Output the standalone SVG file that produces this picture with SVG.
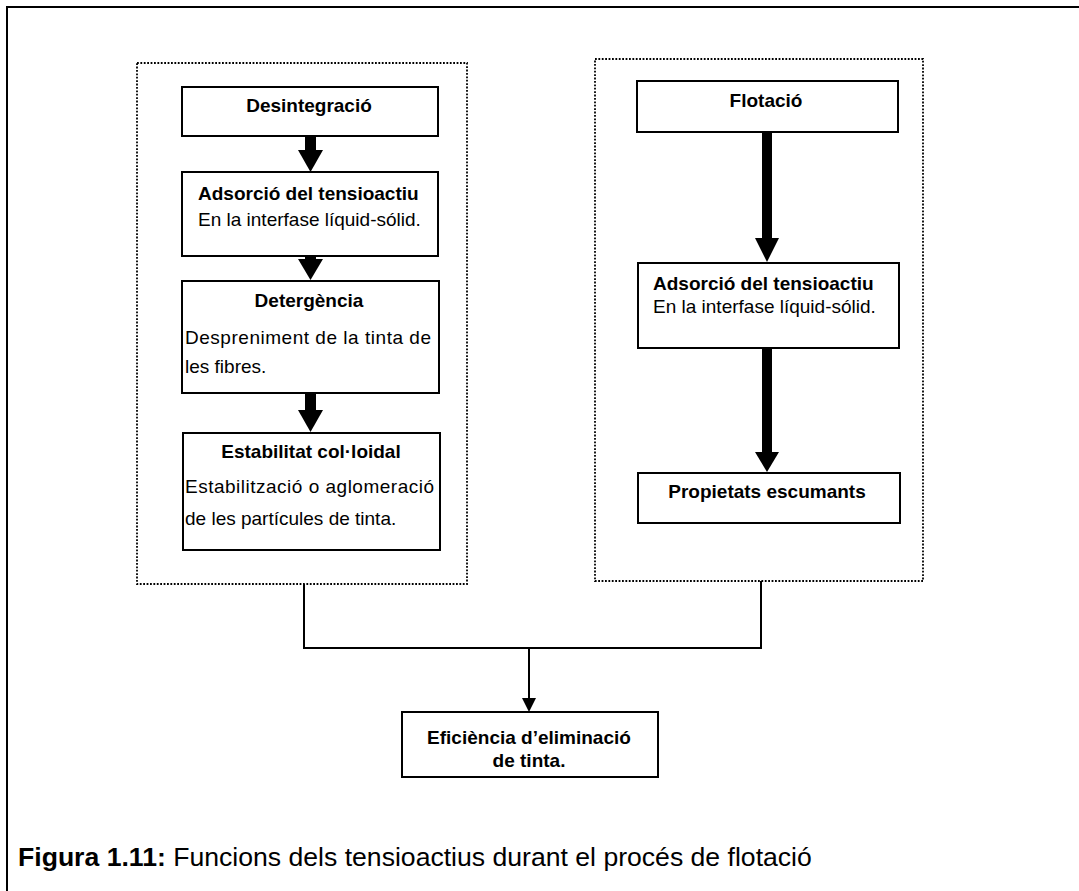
<svg xmlns="http://www.w3.org/2000/svg" width="1079" height="891" viewBox="0 0 1079 891">
  <style>
    .frame { fill: none; stroke: #000; stroke-width: 2; }
    .group { fill: none; stroke: #000; stroke-width: 1.8; stroke-dasharray: 1.8 1.6; }
    .box { fill: #fff; stroke: #000; stroke-width: 2; }
    .t { font-family: "Liberation Sans", Arial, Helvetica, sans-serif; font-size: 19px; fill: #000; }
    .b { font-weight: bold; }
    .c { text-anchor: middle; }
    .link { fill: none; stroke: #000; stroke-width: 2; }
    .shaft { fill: #000; }
    .cap { font-family: "Liberation Sans", Arial, Helvetica, sans-serif; font-size: 26.6px; fill: #000; }
  </style>

  <rect x="0" y="0" width="1079" height="891" fill="#fff"/>

  <!-- page frame (open at right and bottom) -->
  <path class="frame" d="M7,891 V7 H1079"/>

  <!-- dotted group outlines -->
  <g id="group-left">
    <rect class="group" x="137" y="63" width="330" height="521"/>
  </g>
  <g id="group-right">
    <rect class="group" x="595" y="59" width="328" height="522"/>
  </g>

  <!-- connectors -->
  <g id="connectors">
    <!-- left column -->
    <rect class="shaft" x="305" y="136" width="11" height="15"/>
    <polygon class="shaft" points="298,150 323,150 310.5,172"/>
    <rect class="shaft" x="305" y="255" width="11" height="5"/>
    <polygon class="shaft" points="298,259 323,259 310.5,280"/>
    <rect class="shaft" x="305" y="392" width="11" height="19"/>
    <polygon class="shaft" points="298,410 323,410 310.5,432"/>
    <!-- right column -->
    <rect class="shaft" x="762" y="131" width="10" height="109"/>
    <polygon class="shaft" points="755,238 779,238 767,262"/>
    <rect class="shaft" x="762" y="347" width="10" height="107"/>
    <polygon class="shaft" points="755,452 779,452 767,472"/>
    <!-- merge into result -->
    <path class="link" d="M304,584 V648 H761 V581"/>
    <path class="link" d="M529,648 V699"/>
    <polygon class="shaft" points="522,698 536,698 529,712"/>
  </g>

  <!-- left column nodes -->
  <g id="node-desintegracio">
    <rect class="box" x="182" y="87" width="256" height="49"/>
    <text class="t b c" x="309" y="112">Desintegració</text>
  </g>
  <g id="node-adsorcio-1">
    <rect class="box" x="182" y="172" width="256" height="84"/>
    <text class="t b" x="198" y="200">Adsorció del tensioactiu</text>
    <text class="t" x="198" y="226">En la interfase líquid-sólid.</text>
  </g>
  <g id="node-detergencia">
    <rect class="box" x="182" y="281" width="257" height="112"/>
    <text class="t b c" x="309" y="307">Detergència</text>
    <text class="t" x="185" y="344" textLength="246" lengthAdjust="spacing">Despreniment de la tinta de</text>
    <text class="t" x="185" y="373">les fibres.</text>
  </g>
  <g id="node-estabilitat">
    <rect class="box" x="183" y="433" width="257" height="117"/>
    <text class="t b c" x="311" y="458">Estabilitat col·loidal</text>
    <text class="t" x="185" y="493" textLength="249" lengthAdjust="spacing">Estabilització o aglomeració</text>
    <text class="t" x="185" y="525">de les partícules de tinta.</text>
  </g>

  <!-- right column nodes -->
  <g id="node-flotacio">
    <rect class="box" x="637" y="81" width="261" height="51"/>
    <text class="t b c" x="766" y="107">Flotació</text>
  </g>
  <g id="node-adsorcio-2">
    <rect class="box" x="638" y="263" width="261" height="85"/>
    <text class="t b" x="653" y="290">Adsorció del tensioactiu</text>
    <text class="t" x="653" y="313">En la interfase líquid-sólid.</text>
  </g>
  <g id="node-propietats">
    <rect class="box" x="638" y="473" width="262" height="50"/>
    <text class="t b c" x="767" y="498">Propietats escumants</text>
  </g>

  <!-- result node -->
  <g id="node-eficiencia">
    <rect class="box" x="402" y="712" width="256" height="65"/>
    <text class="t b c" x="529" y="744">Eficiència d’eliminació</text>
    <text class="t b c" x="529" y="767">de tinta.</text>
  </g>

  <!-- caption -->
  <text class="cap" x="18" y="866"><tspan font-weight="bold">Figura 1.11:</tspan> Funcions dels tensioactius durant el procés de flotació</text>
</svg>
